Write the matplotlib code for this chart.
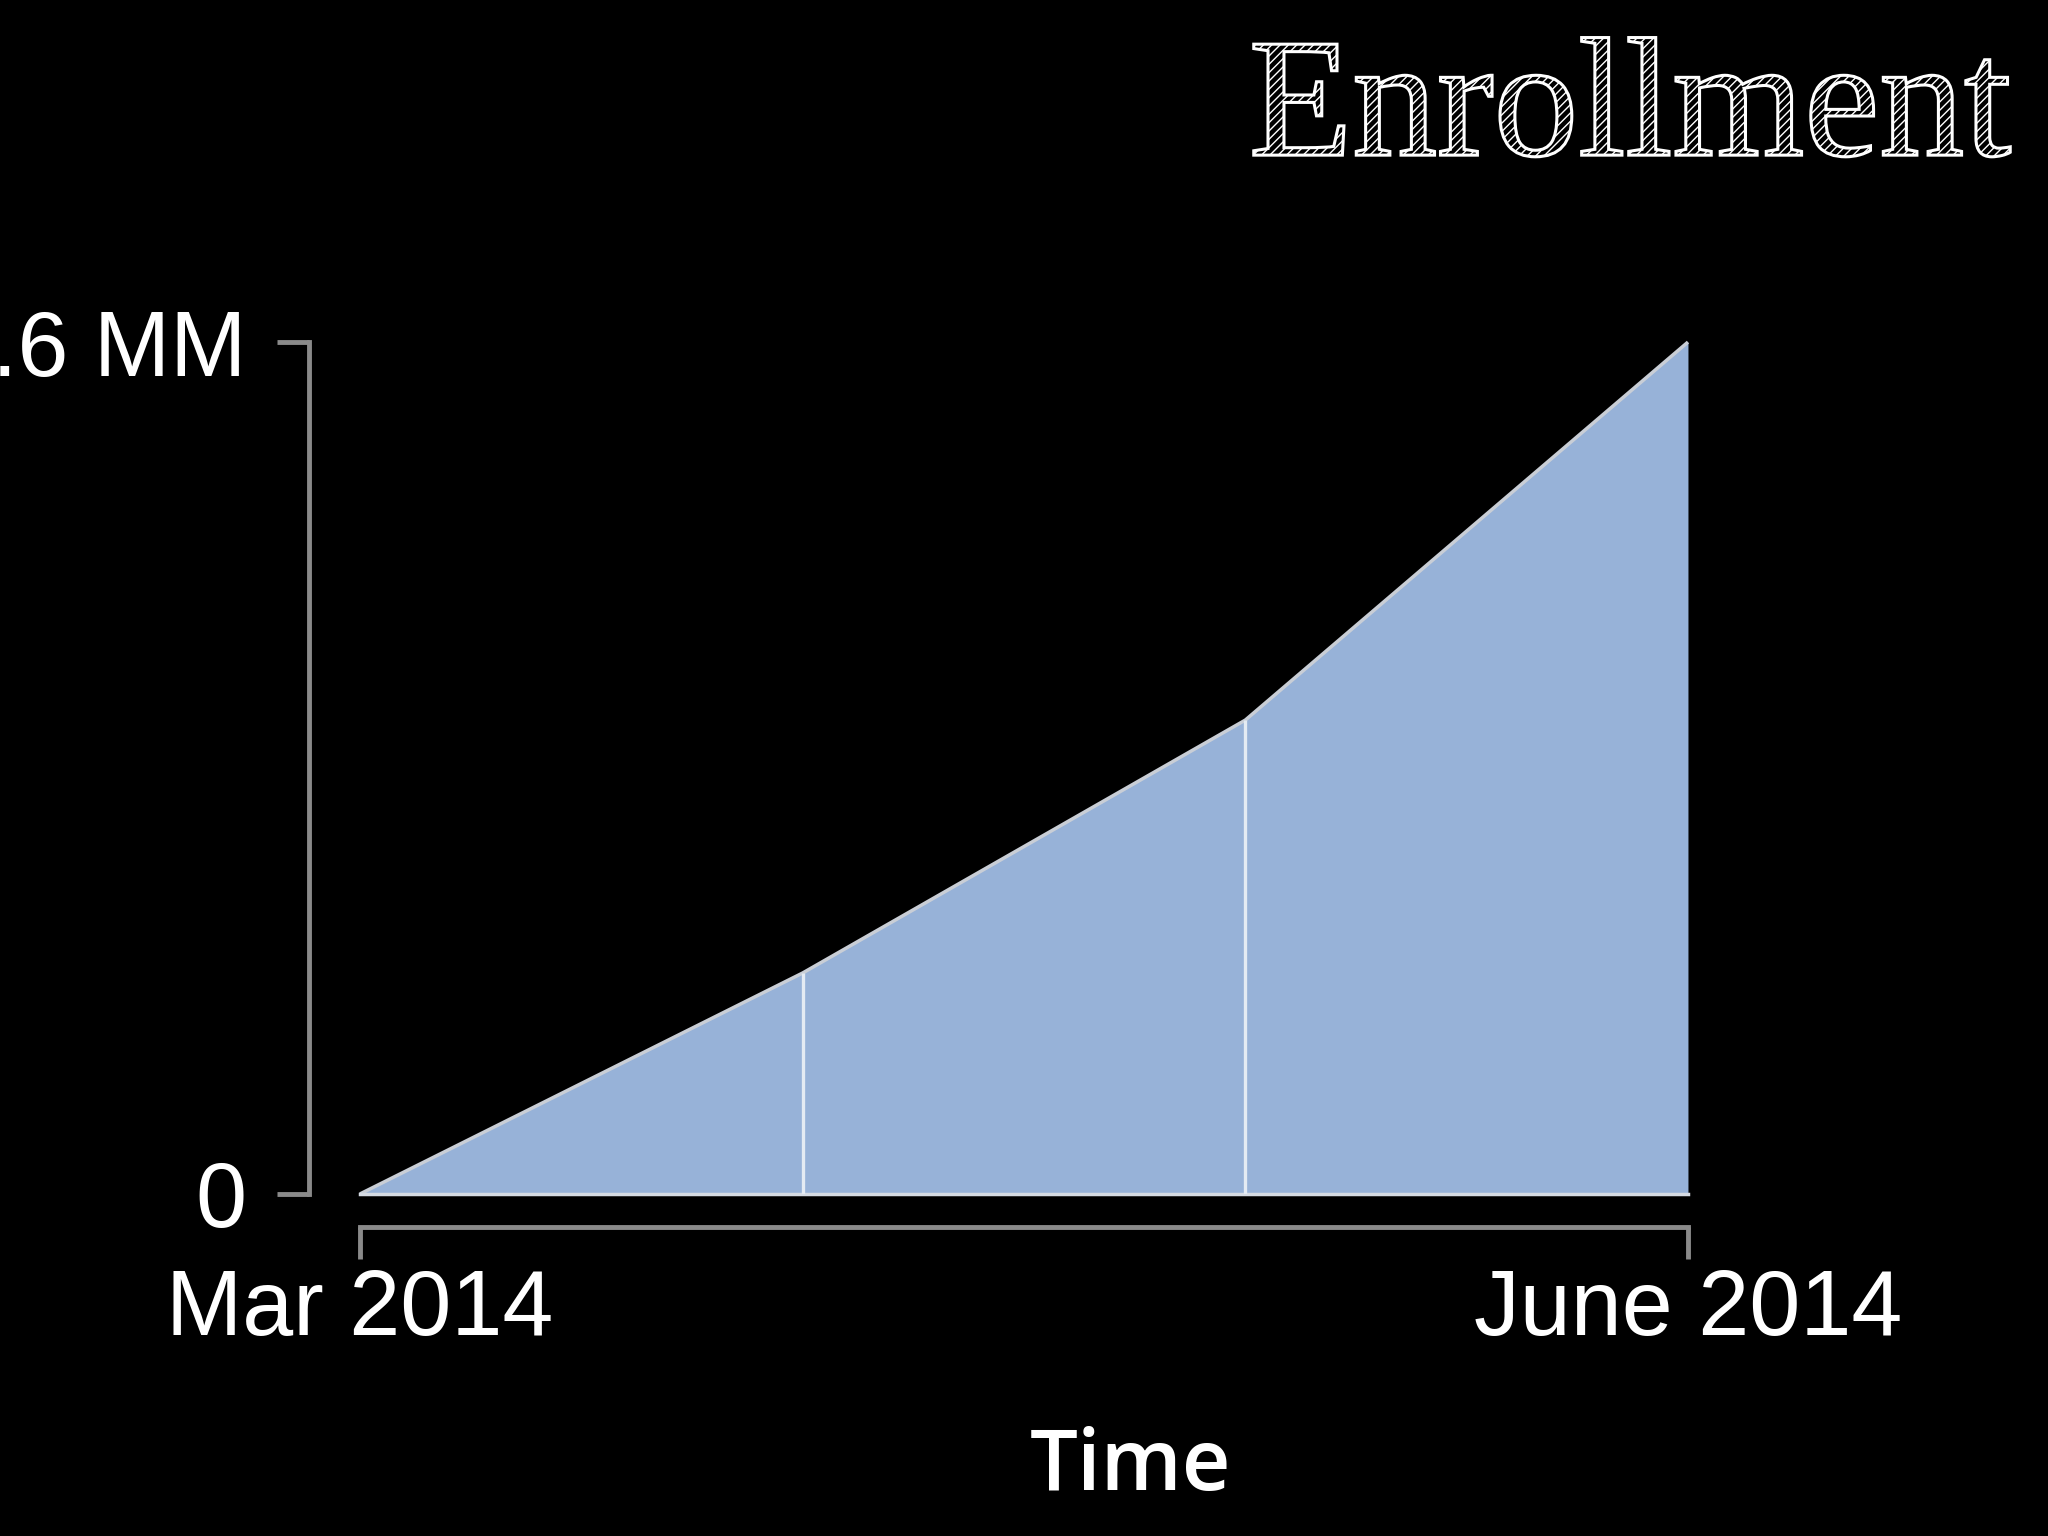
import matplotlib
matplotlib.use("Agg")
import matplotlib.pyplot as plt
import matplotlib.patheffects as pe

# enrollment (millions) at month starts
months = ["Mar 2014", "Apr 2014", "May 2014", "June 2014"]
enrolled = [0.0, 0.415, 0.89, 1.6]
ytick_vals = [0, 1.6]
ytick_labels = ["0", "1.6 MM"]
xtick_labels = ["Mar 2014", "June 2014"]

fill_col = "#97b2d8"
edge_col = "#c9ced6"
axis_col = "#8a8a8a"

fig = plt.figure(figsize=(20.48, 15.36), dpi=100, facecolor="black")
ax = fig.add_axes([0.1758, 0.2227, 0.6484, 0.5546])
ax.set_facecolor("black")

x = list(range(len(months)))
ax.fill_between(x, enrolled, 0, color=fill_col, lw=0, clip_on=False)
ax.plot(x, enrolled, color=edge_col, lw=2.5, clip_on=False, solid_capstyle="butt")
ax.plot([x[0], x[-1]], [0, 0], color="#d5dbe3", lw=2.5, clip_on=False)
ax.vlines(x[1:-1], 0, enrolled[1:-1], color="#e4ebf3", lw=2.4)

ax.set_xlim(x[0], x[-1])
ax.set_ylim(0, 1.6)

for s in ["top", "right"]:
    ax.spines[s].set_visible(False)
ax.spines["left"].set_position(("outward", 37))
ax.spines["bottom"].set_position(("outward", 24))
for s in ["left", "bottom"]:
    ax.spines[s].set_color(axis_col)
    ax.spines[s].set_linewidth(3.5)

ax.set_yticks(ytick_vals)
ax.set_yticklabels(ytick_labels)
ax.set_xticks([x[0], x[-1]])
ax.set_xticklabels(xtick_labels)
ax.tick_params(axis="both", colors=axis_col, width=3.5, labelcolor="white",
               labelsize=66)
ax.tick_params(axis="y", pad=22, length=23)
ax.tick_params(axis="x", pad=6, length=23)
for lab in ax.get_xticklabels() + ax.get_yticklabels():
    lab.set_family("Liberation Sans")

fig.text(0.552, 0.044, "Time", color="white", fontsize=61, family="Open Sans",
         weight="semibold", ha="center", va="center")

fig.text(0.982, 0.899, "Enrollment", fontsize=122, family="Liberation Serif",
         ha="right", va="baseline", color="white",
         path_effects=[pe.PathPatchEffect(edgecolor="white", facecolor="black",
                                          hatch="////", linewidth=2.2)])

fig.savefig("out.png", dpi=100, facecolor="black")
